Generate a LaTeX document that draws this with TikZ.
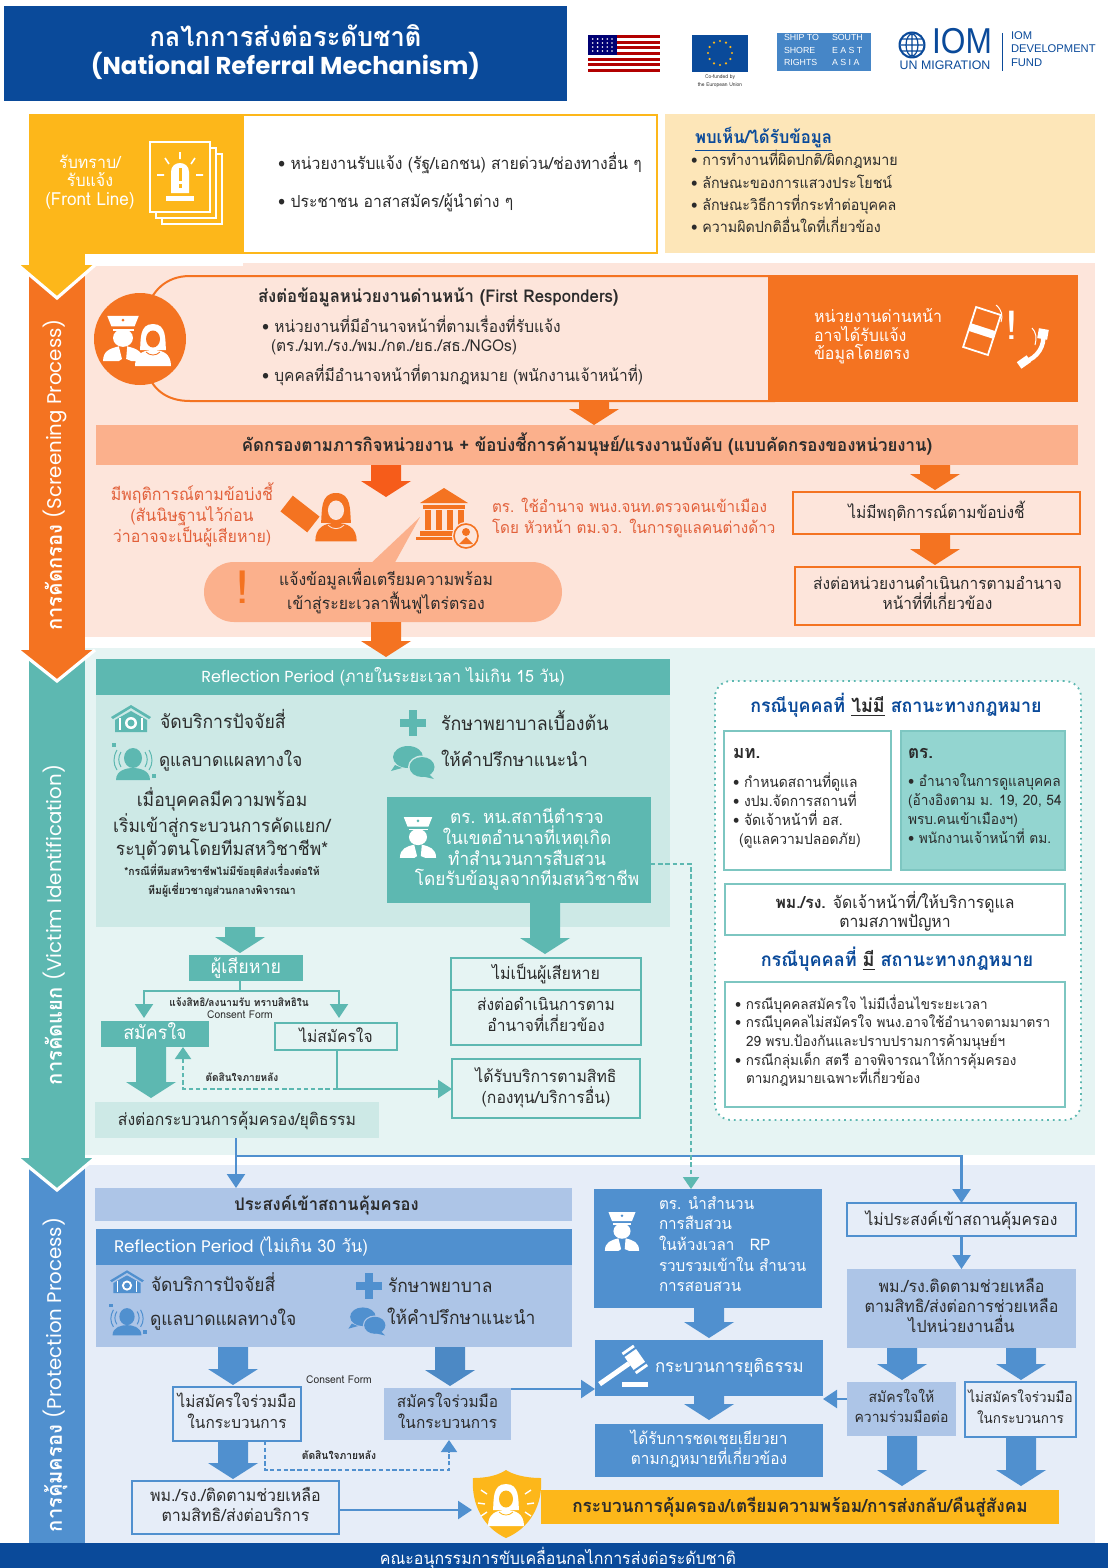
\documentclass[tikz,border=0pt]{standalone}
\usepackage{fontspec}
\setmainfont[Script=Thai,FakeStretch=0.95]{Loma}
\newfontfamily\popf{Poppins}
\newfontfamily\libf{Liberation Sans}
\usetikzlibrary{calc,arrows.meta,shapes.geometric}
\definecolor{navy}{HTML}{0A4A9A}
\definecolor{yel}{HTML}{FDB71A}
\definecolor{cream}{HTML}{FDE6B8}
\definecolor{peach}{HTML}{FDE5DB}
\definecolor{org}{HTML}{F47321}
\definecolor{salm}{HTML}{FBB08C}
\definecolor{redt}{HTML}{E2603A}
\definecolor{teal1}{HTML}{5DB8B1}
\definecolor{tealbg}{HTML}{E6F4F3}
\definecolor{tealp}{HTML}{CDE9E6}
\definecolor{tealf}{HTML}{93D5D0}
\definecolor{bluebg}{HTML}{E6EDF8}
\definecolor{blu}{HTML}{5090CF}
\definecolor{blup}{HTML}{ADC5E7}
\definecolor{ink}{HTML}{2B2B2B}
\newcommand\fz[2]{\fontsize{#1}{#2}\selectfont}
\newcommand\topstrut{\rule{0pt}{\dimexpr.7\baselineskip+1.5pt\relax}}
\newcounter{tc}
\tikzset{
 txtbase/.style={inner sep=0pt,outer sep=0pt,text=ink,execute at begin node=\topstrut,execute at end node=\strut},
 lab/.style={txtbase,anchor=west,font=\fz{8.2}{10.2}},
 cen/.style={txtbase,anchor=center,align=center,font=\fz{8.3}{10.2}},
 box/.style={txtbase,anchor=center,align=center,font=\fz{8.3}{10.2},line width=1pt},
 wt/.style={text=white},
 conT/.style={draw=teal1,line width=1.2pt,-{Triangle[length=7pt,width=9pt]}},
 conB/.style={draw=blu,line width=1.2pt,-{Triangle[length=7pt,width=9pt]}},
 dashT/.style={draw=teal1,line width=1pt,dash pattern=on 2.2pt off 1.4pt,-{Triangle[length=6pt,width=8pt]}},
 dashB/.style={draw=blu,line width=.8pt,dash pattern=on 2.2pt off 1.2pt,-{Triangle[length=6pt,width=8pt]}},
}
\newcommand\tx[4][]{\stepcounter{tc}\node[lab,#1] (lab\thetc) at (#2,#3) {#4};}
\newcommand\bx[7][]{\node[box,minimum width={(#5-#3)*0.5pt},minimum height={(#6-#4)*0.5pt},#1] (#2) at ({(#3+#5)/2},{(#4+#6)/2}) {#7};}
% block arrow: colour, from, to (gap in pt optional)
\newcommand\barrow[4][1pt]{\path let \p1=#3,\p2=#4 in [fill=#2] (\x1-7.5pt,\y1) -- (\x1+7.5pt,\y1) -- (\x1+7.5pt,\y2+#1+8pt) -- (\x1+12.5pt,\y2+#1+8pt) -- (\x1,\y2+#1) -- (\x1-12.5pt,\y2+#1+8pt) -- (\x1-7.5pt,\y2+#1+8pt) -- cycle;}
% icons, drawn in pixels around (x,y): x,y,colour,scale[,background]
\newcommand\icHouse[4]{\begin{scope}[shift={(#1,#2)},scale=#4]
 \fill[#3] (-20,-3) -- (0,-15) -- (20,-3) -- (18,-1) -- (0,-12) -- (-18,-1) -- cycle;
 \fill[#3] (-16,0) -- (0,-9) -- (16,0) -- (16,12) -- (-16,12) -- cycle;
 \fill[white] (0,3) circle (6);\fill[#3] (0,3) circle (3.5);
 \draw[white,line width=.7pt] (-11,-2) -- (-11,10) (11,-2) -- (11,10);
\end{scope}}
\newcommand\icCross[3]{\begin{scope}[shift={(#1,#2)}]
 \fill[#3] (-4,-13) rectangle (4,13);\fill[#3] (-13,-4) rectangle (13,4);
\end{scope}}
\newcommand\icHead[4]{\begin{scope}[shift={(#1,#2)},scale=#4]
 \fill[#3] (0,-4) ellipse (9 and 10);
 \fill[#3] (-17,18) .. controls (-17,8) and (-6,6) .. (0,6) .. controls (6,6) and (17,8) .. (17,18) -- cycle;
 \draw[#3,line width=.5pt] (-12,-10) .. controls (-15,-5) and (-15,0) .. (-12,5) (12,-10) .. controls (15,-5) and (15,0) .. (12,5);
 \draw[#3,line width=.5pt] (-16,-12) .. controls (-20,-5) and (-20,2) .. (-16,8) (16,-12) .. controls (20,-5) and (20,2) .. (16,8);
 \fill[#3] (-21,-19) rectangle (-17,-15);\fill[#3] (19,12) rectangle (23,16);
\end{scope}}
\newcommand\icBub[5]{\begin{scope}[shift={(#1,#2)},scale=#4]
 \fill[#3] (-6,-5) ellipse (15 and 11);\fill[#3] (-19,3) -- (-23,9) -- (-12,6) -- cycle;
 \fill[#5] (8,5) ellipse (14 and 11.5);
 \fill[#3] (8,5) ellipse (12.5 and 10);\fill[#3] (15,12) -- (20,17) -- (7,14) -- cycle;
\end{scope}}
\newcommand\icOfficer[5]{\begin{scope}[shift={(#1,#2)},scale=#5]
 \fill[#3] (-15,-22) -- (15,-22) -- (11,-12) -- (-11,-12) -- cycle;
 \fill[#3] (-10,-10) rectangle (10,-8);
 \fill[#3] (0,-1) ellipse (9.5 and 8.5);
 \fill[#3] (-19,21) .. controls (-19,11) and (-12,9) .. (-4,7) -- (-1,19) -- (-4,21) -- cycle;
 \fill[#3] (19,21) .. controls (19,11) and (12,9) .. (4,7) -- (3,19) -- (8,21) -- cycle;
 \fill[#4] (0,-18) circle (1.5);
\end{scope}}
\newcommand\icWoman[5]{\begin{scope}[shift={(#1,#2)},scale=#5]
 \fill[#3] (0,-20) .. controls (-14,-20) and (-12,-4) .. (-13,6) -- (13,6) .. controls (12,-4) and (14,-20) .. (0,-20) -- cycle;
 \fill[#3] (-18,22) .. controls (-18,10) and (-10,6) .. (0,6) .. controls (10,6) and (18,10) .. (18,22) -- cycle;
 \fill[#4] (0,-5) ellipse (7 and 8.5);
 \draw[#4,line width=.4pt] (-7,8) .. controls (-3,12) and (3,12) .. (7,8);
\end{scope}}
\begin{document}
\begin{tikzpicture}[x=0.5pt,y=-0.5pt,line join=miter]
\useasboundingbox (0,0) rectangle (1108,1568);
\fill[white] (0,0) rectangle (1108,1568);
%% section backgrounds
\fill[peach] (85,263) rectangle (1095,637);
\fill[tealbg] (85,648) rectangle (1095,1155);
\fill[bluebg] (85,1165) rectangle (1095,1543);
%% header
\bx[fill=navy,wt,font=\bfseries\fz{13.4}{14}]{title}{4}{6}{567}{101}{กลไกการส่งต่อระดับชาติ\\{\fz{12.2}{14}\popf (National Referral Mechanism)}}
% US flag
\foreach \i in {0,2,...,12}{\fill[red!70!black] (588,{35+\i*2.846}) rectangle (660,{35+(\i+1)*2.846});}
\fill[blue!45!black] (588,35) rectangle (617,55);
\foreach \i in {1,...,5}{\foreach \j in {1,...,4}{\fill[white] ({588+\i*4.8},{35+\j*4}) circle (.9);}}
% EU flag
\fill[navy] (692,35) rectangle (748,72);
\foreach \a in {0,30,...,330}{\fill[yel] ({720+12*cos(\a)},{53+12*sin(\a)}) circle (1.2);}
\tx[cen,font=\fz{2.6}{4}]{720}{82}{Co-funded by\\the European Union}
% Ship to shore
\fill[blu!85!navy] (777,33) rectangle (871,71);
\tx[wt,align=left,font=\libf\fz{4.4}{6.2}]{784}{52}{SHIP TO\\SHORE\\RIGHTS}
\tx[wt,align=left,font=\libf\fz{4.4}{6.2}]{832}{52}{SOUTH\\E A S T\\A S I A}
% IOM
\fill[navy] (912,45) circle (13.5);
\fill[white] (912,45) circle (11.3);
\draw[navy,line width=.6pt] (912,34) -- (912,56) (901,45) -- (923,45) (912,45) ellipse (6 and 11) (902,39) -- (922,39) (902,51) -- (922,51);
\tx[text=navy,font=\libf\fz{18}{8},xscale=.88,transform shape,anchor=center]{962}{43}{IOM}
\tx[text=navy,font=\libf\fz{6.2}{5},anchor=center]{945}{66}{UN MIGRATION}
\draw[navy,line width=.4pt] (1002,33) -- (1002,71);
\tx[text=navy,font=\libf\fz{5.6}{6.8},align=left]{1011}{51}{IOM\\DEVELOPMENT\\FUND}
%% side bands (lowest first)
\fill[blu] (29,1160) rectangle (85,1543);
\fill[teal1] (29,650) rectangle (85,1160);
\draw[white,line width=1.6pt,fill=teal1] (18,1158) -- (57,1190) -- (95,1158);
\fill[org] (29,263) rectangle (85,652);
\draw[white,line width=1.6pt,fill=org] (18,650) -- (57,681) -- (95,650);
\fill[yel] (29,114) rectangle (243,266);
\fill[white] (85,254) rectangle (243,266);
\draw[white,line width=1.6pt,fill=yel] (18,265) -- (57,298) -- (95,265);
\tx[cen,wt,rotate=90,font=\bfseries\fz{10.6}{11}]{56}{475}{การคัดกรอง {\fz{9.9}{11}\mdseries\popf (Screening Process)}}
\tx[cen,wt,rotate=90,font=\bfseries\fz{10.6}{11}]{56}{925}{การคัดแยก {\fz{9.9}{11}\mdseries\popf (Victim Identification)}}
\tx[cen,wt,rotate=90,font=\bfseries\fz{10.6}{11}]{56}{1375}{การคุ้มครอง {\fz{9.9}{11}\mdseries\popf (Protection Process)}}
%% front line
\tx[cen,wt,font=\fz{8.4}{9.4}]{90}{183}{รับทราบ/\\รับแจ้ง\\{\fz{9}{9.4}(Front Line)}}
\foreach \d in {12,6,0}{\draw[white,line width=.7pt,fill=yel] ({150+\d},{142+\d}) rectangle ({210+\d},{212+\d});}
\fill[white] (171,172) .. controls (171,160) and (189,160) .. (189,172) -- (189,193) -- (171,193) -- cycle;
\fill[yel] (178.5,168) rectangle (181.5,181);\fill[yel] (178.5,184) rectangle (181.5,188);
\fill[white] (166,196) rectangle (194,201);
\draw[white,line width=.8pt] (180,152) -- (180,159) (165,158) -- (169,164) (195,158) -- (191,164) (157,175) -- (164,175) (196,175) -- (203,175);
\bx[fill=white,draw=yel]{frontbox}{243}{115}{657}{253}{}
\tx[font=\fz{8.28}{10.2}]{278}{164}{• หน่วยงานรับแจ้ง (รัฐ/เอกชน) สายด่วน/ช่องทางอื่น ๆ}
\tx[font=\fz{8.28}{10.2}]{278}{202}{• ประชาชน อาสาสมัคร/ผู้นำต่าง ๆ}
\bx[fill=cream]{seen}{665}{114}{1095}{253}{}
\tx[text=navy,font=\bfseries\fz{8.8}{10.2}]{695}{139}{\underline{พบเห็น/ได้รับข้อมูล}}
\tx[font=\fz{7.5}{10.2}]{691}{160}{• การทำงานที่ผิดปกติ/ผิดกฎหมาย}
\tx[font=\fz{7.5}{10.2}]{691}{183}{• ลักษณะของการแสวงประโยชน์}
\tx[font=\fz{7.5}{10.2}]{691}{205}{• ลักษณะวิธีการที่กระทำต่อบุคคล}
\tx[font=\fz{7.5}{10.2}]{691}{227}{• ความผิดปกติอื่นใดที่เกี่ยวข้อง}
%% first responders
\draw[org,line width=1pt] (775,276) -- (190,276) .. controls (165,276) and (152,292) .. (146,310) (146,370) .. controls (152,388) and (165,401) .. (190,401) -- (775,401);
\fill[org] (140,339) circle (46);
\icOfficer{123}{339}{white}{org}{1.05}
\icWoman{153}{344}{white}{org}{1}
\bx[fill=org]{direct}{768}{275}{1078}{402}{}
\tx[font=\bfseries\fz{8.8}{10.2}]{258}{297}{ส่งต่อข้อมูลหน่วยงานด่านหน้า (First Responders)}
\tx[font=\fz{8.15}{10.2}]{262}{327}{• หน่วยงานที่มีอำนาจหน้าที่ตามเรื่องที่รับแจ้ง}
\tx[font=\fz{8.15}{10.2}]{271}{346}{(ตร./มท./รง./พม./กต./ยธ./สธ./NGOs)}
\tx[font=\fz{8.15}{10.2}]{262}{376}{• บุคคลที่มีอำนาจหน้าที่ตามกฎหมาย (พนักงานเจ้าหน้าที่)}
\tx[wt,align=left,font=\fz{8.4}{9.2}]{814}{337}{หน่วยงานด่านหน้า\\อาจได้รับแจ้ง\\ข้อมูลโดยตรง}
\begin{scope}[shift={(982,331)},rotate=-18]
 \draw[white,line width=.9pt] (-13,-21) rectangle (13,21);
 \fill[white] (-13,-4) rectangle (13,4);
\end{scope}
\tx[cen,wt,font=\bfseries\fz{20}{14}]{1012}{330}{!}
\draw[white,line width=2.2pt,line cap=round] (1024,362) .. controls (1038,358) and (1045,345) .. (1043,334);
\fill[white,rotate around={35:(1024,362)}] (1018,358) rectangle (1030,366);
\fill[white,rotate around={-10:(1043,334)}] (1038,329) rectangle (1048,339);
\draw[white,line width=.5pt] (996,305) .. controls (1002,310) and (1003,316) .. (1001,322) (1032,328) .. controls (1036,332) and (1037,338) .. (1035,345);
\bx[fill=salm,font=\bfseries\fz{8.85}{10.2}]{band}{96}{425}{1078}{465}{คัดกรองตามภารกิจหน่วยงาน + ข้อบ่งชี้การค้ามนุษย์/แรงงานบังคับ (แบบคัดกรองของหน่วยงาน)}
\barrow[0pt]{org}{(594,0 |- direct.south)}{(594,0 |- band.north)}
\coordinate (c386) at (386,497);
\coordinate (c935) at (935,490);
\barrow[0pt]{org!80!red}{(386,0 |- band.south)}{(c386)}
\barrow[0pt]{org}{(935,0 |- band.south)}{(c935)}
\tx[cen,text=redt,font=\fz{8.4}{10.4}]{192}{516}{มีพฤติการณ์ตามข้อบ่งชี้\\(สันนิษฐานไว้ก่อน\\ว่าอาจจะเป็นผู้เสียหาย)}
\begin{scope}[shift={(300,514)},rotate=-38]
 \fill[org] (-17,-10) rectangle (17,10);
\end{scope}
\icWoman{336}{516}{org}{peach}{1.15}
% bank
\begin{scope}[shift={(444,515)}]
 \fill[org] (-24,-12) -- (0,-27) -- (24,-12) -- cycle;
 \fill[org] (-21,-10) rectangle (21,-6);
 \foreach \x in {-19,-8,3,14}{\fill[org] (\x,-5) rectangle (\x+6,15);}
 \fill[org] (-24,16) rectangle (24,21);
 \fill[org] (-28,22) rectangle (28,25);
 \fill[peach] (22,21) circle (14);
 \draw[org,line width=.8pt] (22,21) circle (12);
 \fill[org] (22,17) circle (4);\fill[org] (15,29) -- (22,22) -- (29,29) -- cycle;
\end{scope}
\tx[text=redt,font=\fz{8}{10.2}]{492}{507}{ตร. ใช้อำนาจ พนง.จนท.ตรวจคนเข้าเมือง}
\tx[text=redt,font=\fz{8}{10.2}]{492}{528}{โดย หัวหน้า ตม.จว. ในการดูแลคนต่างด้าว}
\bx[draw=org,line width=1.3pt,font=\fz{8.2}{10.2}]{nobeh}{793}{492}{1080}{534}{ไม่มีพฤติการณ์ตามข้อบ่งชี้}
\bx[draw=org,line width=1.3pt,font=\fz{8.15}{10.2}]{refag}{795}{567}{1080}{625}{ส่งต่อหน่วยงานดำเนินการตามอำนาจ\\หน้าที่ที่เกี่ยวข้อง}
\barrow[1pt]{org}{(935,0 |- nobeh.south)}{(935,0 |- refag.north)}
\fill[salm] (420,517) -- (368,566) -- (393,566) -- cycle;
\bx[fill=salm,rounded corners=15pt]{notify}{204}{562}{562}{622}{\hspace*{3pt}แจ้งข้อมูลเพื่อเตรียมความพร้อม\\\hspace*{3pt}เข้าสู่ระยะเวลาฟื้นฟูไตร่ตรอง}
\tx[cen,text=org,font=\bfseries\fz{23}{14}]{243}{591}{!}
%% victim identification
\bx[fill=tealp]{panel15}{96}{695}{670}{927}{}
\bx[fill=teal1,wt,font=\fz{8.4}{10.2}]{rp15}{96}{659}{670}{695}{{\fz{8}{10.2}\popf Reflection Period} (ภายในระยะเวลา ไม่เกิน 15 วัน)}
\barrow[1pt]{org}{(386,0 |- notify.south)}{(386,0 |- rp15.north)}
\icHouse{131}{720}{teal1}{1}
\tx[font=\fz{9.3}{11}]{160}{722}{จัดบริการปัจจัยสี่}
\icCross{413}{723}{teal1}
\tx[font=\fz{9.4}{11}]{441}{724}{รักษาพยาบาลเบื้องต้น}
\icHead{133}{762}{teal1}{1}
\tx[font=\fz{9}{11}]{159}{761}{ดูแลบาดแผลทางใจ}
\icBub{414}{762}{teal1}{1}{tealp}
\tx[font=\fz{9.1}{11}]{441}{761}{ให้คำปรึกษาแนะนำ}
\tx[cen,font=\fz{9.2}{10.4}]{222}{825}{เมื่อบุคคลมีความพร้อม\\เริ่มเข้าสู่กระบวนการคัดแยก/\\ระบุตัวตนโดยทีมสหวิชาชีพ*}
\tx[cen,font=\bfseries\fz{5.5}{9.3}]{222}{882}{*กรณีที่ทีมสหวิชาชีพไม่มีข้อยุติส่งเรื่องต่อให้\\ทีมผู้เชี่ยวชาญส่วนกลางพิจารณา}
\bx[fill=teal1,wt,font=\fz{9.1}{10.4}]{police15}{387}{797}{651}{903}{\hspace*{8pt}ตร. หน.สถานีตำรวจ\\\hspace*{8pt}ในเขตอำนาจที่เหตุเกิด\\\hspace*{8pt}ทำสำนวนการสืบสวน\\\hspace*{8pt}โดยรับข้อมูลจากทีมสหวิชาชีพ}
\icOfficer{418}{838}{white}{teal1}{.95}
\bx[fill=teal1,wt,font=\fz{9.4}{10}]{victim}{189}{955}{303}{981}{ผู้เสียหาย}
\barrow{teal1}{(240,0 |- panel15.south)}{(240,0 |- victim.north)}
\bx[draw=teal1,font=\fz{8.4}{10.2}]{notvic}{451}{958}{641}{990}{ไม่เป็นผู้เสียหาย}
\bx[draw=teal1,font=\fz{8.2}{10.2}]{notvic2}{451}{990}{641}{1045}{ส่งต่อดำเนินการตาม\\อำนาจที่เกี่ยวข้อง}
\barrow[2pt]{teal1}{(545,0 |- police15.south)}{(545,0 |- notvic.north)}
\bx[fill=teal1,wt,font=\fz{9.4}{10}]{vol}{101}{1021}{209}{1047}{สมัครใจ}
\bx[draw=teal1,font=\fz{8.2}{10.2}]{novol}{275}{1023}{397}{1050}{ไม่สมัครใจ}
\bx[draw=teal1]{rights}{452}{1059}{640}{1118}{ได้รับบริการตามสิทธิ\\(กองทุน/บริการอื่น)}
\bx[fill=tealp]{refer}{95}{1102}{379}{1138}{ส่งต่อกระบวนการคุ้มครอง/ยุติธรรม}
\barrow[2pt]{teal1}{(151,0 |- vol.south)}{(151,0 |- refer.north)}
\coordinate (vsplit) at (240,991);
\draw[draw=teal1,line width=1.2pt] (240,0 |- victim.south) -- (vsplit);
\draw[conT] (vsplit) -| (144,1018);
\draw[conT] (vsplit) -| (339,1018);
\tx[cen,font=\bfseries\fz{5.3}{6}]{239}{1003}{แจ้งสิทธิ/ลงนามรับ ทราบสิทธิใน}
\tx[cen,font=\fz{5.4}{6}]{240}{1015}{Consent Form}
\coordinate (nv) at (337,1089);
\draw[conT] (337,0 |- novol.south) -- (nv) -- (nv -| rights.west);
\draw[dashT] (nv) -| (183,0 |- vol.south);
\tx[cen,font=\bfseries\fz{5.3}{6}]{242}{1078}{ตัดสินใจภายหลัง}
\coordinate (pd) at (691,864);
%% legal status box
\draw[teal1,line width=.9pt,dotted,fill=white,rounded corners=8pt] (715,681) rectangle (1081,1120);
\tx[cen,text=navy,font=\bfseries\fz{9.4}{11}]{896}{706}{กรณีบุคคลที่ {\color{ink}\underline{ไม่มี}} สถานะทางกฎหมาย}
\bx[draw=teal1!80,fill=white]{mt}{724}{731}{891}{870}{}
\bx[draw=teal1!80,fill=tealf]{tr}{901}{731}{1065}{870}{}
\tx[font=\bfseries\fz{9}{10}]{733}{753}{มท.}
\tx[font=\bfseries\fz{9}{10}]{908}{753}{ตร.}
\tx[align=left,font=\fz{7.3}{9.5}]{733}{811}{• กำหนดสถานที่ดูแล\\• งปม.จัดการสถานที่\\• จัดเจ้าหน้าที่ อส.\\\hspace*{3pt}(ดูแลความปลอดภัย)}
\tx[align=left,font=\fz{7.2}{9.5}]{908}{811}{• อำนาจในการดูแลบุคคล\\(อ้างอิงตาม ม. 19, 20, 54\\พรบ.คนเข้าเมืองฯ)\\• พนักงานเจ้าหน้าที่ ตม.}
\bx[draw=teal1!80,fill=white]{mow}{725}{884}{1065}{935}{}
\tx[cen,font=\fz{8.3}{9.5}]{895}{912}{\textbf{พม./รง.} จัดเจ้าหน้าที่/ให้บริการดูแล\\ตามสภาพปัญหา}
\tx[cen,text=navy,font=\bfseries\fz{9.5}{11}]{897}{960}{กรณีบุคคลที่ {\color{ink}\underline{มี}} สถานะทางกฎหมาย}
\bx[draw=teal1!80,fill=white]{lawbox}{725}{982}{1065}{1107}{}
\tx[align=left,font=\fz{7.1}{9.3}]{735}{1042}{• กรณีบุคคลสมัครใจ ไม่มีเงื่อนไขระยะเวลา\\• กรณีบุคคลไม่สมัครใจ พนง.อาจใช้อำนาจตามมาตรา\\\hspace*{5.5pt}29 พรบ.ป้องกันและปราบปรามการค้ามนุษย์ฯ\\• กรณีกลุ่มเด็ก สตรี อาจพิจารณาให้การคุ้มครอง\\\hspace*{5.5pt}ตามกฎหมายเฉพาะที่เกี่ยวข้อง}
%% protection
\bx[fill=blup,font=\bfseries\fz{8.7}{10}]{want}{95}{1188}{572}{1221}{ประสงค์เข้าสถานคุ้มครอง\hspace*{7pt}}
\bx[fill=blu]{rp30}{96}{1229}{572}{1265}{}
\tx[wt,font=\fz{8.8}{10.2}]{114}{1247}{{\fz{8.4}{10.2}\popf Reflection Period} (ไม่เกิน 30 วัน)}
\bx[fill=blup]{panel30}{96}{1265}{572}{1347}{}
\icHouse{127}{1283}{blu}{.85}
\tx[font=\fz{9.2}{11}]{151}{1285}{จัดบริการปัจจัยสี่}
\icCross{369}{1286}{blu}
\tx[font=\fz{9.2}{11}]{388}{1287}{รักษาพยาบาล}
\icHead{127}{1320}{blu}{.85}
\tx[font=\fz{9.2}{11}]{150}{1320}{ดูแลบาดแผลทางใจ}
\icBub{368}{1321}{blu}{.85}{blup}
\tx[font=\fz{9.2}{11}]{387}{1319}{ให้คำปรึกษาแนะนำ}
\bx[draw=blu,line width=1.2pt,font=\fz{8.1}{10.4}]{nocoop}{173}{1387}{301}{1441}{ไม่สมัครใจร่วมมือ\\ในกระบวนการ}
\bx[fill=blup,font=\fz{8.1}{10.4}]{coop}{384}{1388}{511}{1440}{สมัครใจร่วมมือ\\ในกระบวนการ}
\barrow[1pt]{blu}{(233,0 |- panel30.south)}{(233,0 |- nocoop.north)}
\barrow[1pt]{blu!95!black}{(450,0 |- panel30.south)}{(450,0 |- coop.north)}
\tx[cen,font=\fz{5.4}{6}]{339}{1380}{Consent Form}
\bx[draw=blu,line width=1.2pt,font=\fz{8.4}{10.4}]{follow}{132}{1481}{339}{1534}{พม./รง./ติดตามช่วยเหลือ\\ตามสิทธิ/ส่งต่อบริการ}
\barrow[1pt]{blu}{(233,0 |- nocoop.south)}{(233,0 |- follow.north)}
\coordinate (dn) at (265,1470);
\draw[dashB] (265,0 |- nocoop.south) -- (dn) -| (449,0 |- coop.south);
\tx[cen,font=\bfseries\fz{5.4}{6}]{339}{1456}{ตัดสินใจภายหลัง}
\bx[fill=blu]{police30}{594}{1189}{822}{1308}{}
\tx[wt,align=left,font=\fz{8}{10.3}]{659}{1247}{ตร. นำสำนวน\\การสืบสวน\\ในห้วงเวลา \ \ RP\\รวบรวมเข้าใน สำนวน\\การสอบสวน}
\icOfficer{622}{1232}{white}{blu}{.9}
\bx[fill=blu]{justice}{595}{1340}{823}{1396}{}
\tx[wt,font=\fz{8.85}{10.3}]{655}{1367}{กระบวนการยุติธรรม}
\begin{scope}[shift={(634,1360)},rotate=-55]
 \fill[white] (-13,-8) rectangle (13,6);\fill[blu] (-10,-9) rectangle (-8,7);\fill[blu] (8,-9) rectangle (10,7);
 \fill[white] (-2.5,6) rectangle (2.5,42);
\end{scope}
\fill[white] (622,1382) rectangle (648,1387);
\bx[fill=blu,wt,font=\fz{8.1}{10.2}]{comp}{595}{1424}{823}{1477}{ได้รับการชดเชยเยียวยา\\ตามกฎหมายที่เกี่ยวข้อง}
\barrow[1pt]{blu}{(709,0 |- police30.south)}{(709,0 |- justice.north)}
\barrow[2pt]{blu}{(709,0 |- justice.south)}{(709,0 |- comp.north)}
\bx[draw=blu,line width=1.2pt,font=\fz{8.2}{10}]{nowant}{847}{1203}{1076}{1236}{ไม่ประสงค์เข้าสถานคุ้มครอง}
\bx[fill=blup,font=\fz{8.4}{10.2}]{helpr}{847}{1269}{1076}{1348}{พม./รง.ติดตามช่วยเหลือ\\ตามสิทธิ/ส่งต่อการช่วยเหลือ\\ไปหน่วยงานอื่น}
\draw[conB] (nowant.south) -- (helpr.north);
\bx[fill=blup,font=\fz{7.35}{10.2}]{cop2}{847}{1382}{956}{1436}{สมัครใจให้\\ความร่วมมือต่อ}
\bx[draw=blu,line width=1.2pt,font=\fz{7.1}{10.2}]{nocop2}{965}{1382}{1076}{1437}{ไม่สมัครใจร่วมมือ\\ในกระบวนการ}
\barrow[1pt]{blu}{(902,0 |- helpr.south)}{(902,0 |- cop2.north)}
\barrow[1pt]{blu}{(1021,0 |- helpr.south)}{(1021,0 |- nocop2.north)}
\draw[conB] (cop2.west |- 847,1399) -- (justice.east |- 847,1399);
\draw[conB] (coop.east |- 511,1389) -- (justice.west |- 511,1389);
\bx[fill=yel,font=\bfseries\fz{9.05}{10.2},text=ink]{protbar}{541}{1490}{1059}{1524}{กระบวนการคุ้มครอง/เตรียมความพร้อม/การส่งกลับ/คืนสู่สังคม}
\barrow[2pt]{blu}{(902,0 |- cop2.south)}{(902,0 |- protbar.north)}
\barrow[2pt]{blu}{(1021,0 |- nocop2.south)}{(1021,0 |- protbar.north)}
\node[inner sep=0pt,outer sep=0pt,minimum size=1pt] (shield) at (473,1510) {};
\fill[yel] (473,1478) .. controls (490,1478) and (500,1474) .. (506,1470) .. controls (512,1474) and (524,1478) .. (541,1478) .. controls (543,1505) and (530,1528) .. (506,1538) .. controls (484,1528) and (471,1505) .. (473,1478) -- cycle;
\icWoman{506}{1504}{white}{yel}{1}
\draw[white,line width=.7pt] (481,1490) -- (487,1494) (478,1503) -- (485,1504) (481,1516) -- (487,1512) (531,1490) -- (525,1494) (534,1503) -- (527,1504) (531,1516) -- (525,1512);
\draw[conB] (follow.east |- 339,1510) -- (shield);
%% cross-section links
\coordinate (bj) at (236,1156);
\draw[conB] (236,0 |- refer.south) -- (236,0 |- want.north);
\draw[conB] (bj) -| (nowant.north);
\draw[dashT] (police15.east |- pd) -| (691,0 |- police30.north);
%% footer
\bx[fill=navy]{foot}{0}{1543}{1108}{1568}{}
\tx[cen,wt,font=\fz{8.4}{8}]{558}{1558}{คณะอนุกรรมการขับเคลื่อนกลไกการส่งต่อระดับชาติ}
\end{tikzpicture}
\end{document}
